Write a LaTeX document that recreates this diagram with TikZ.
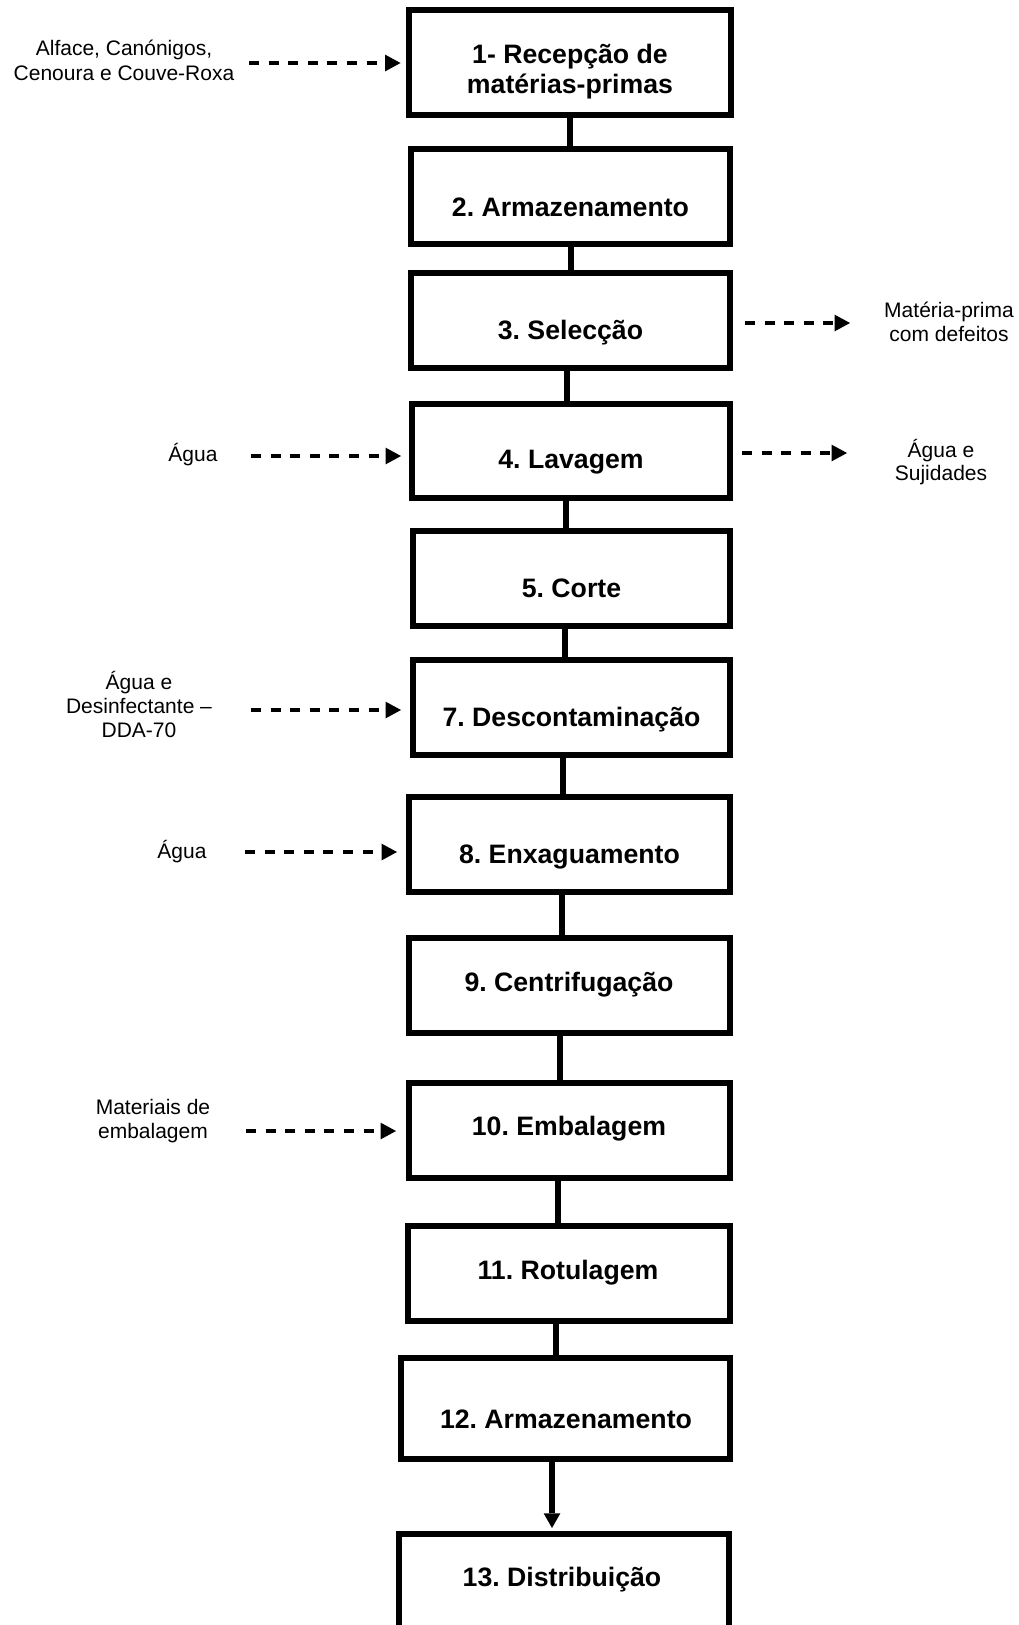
\documentclass[tikz,border=0pt]{standalone}
\usepackage{fontspec}
\setmainfont{Liberation Sans}
\usetikzlibrary{arrows.meta}
\frenchspacing
\begin{document}
\begin{tikzpicture}[x=0.75pt,y=-0.75pt,
  box/.style 2 args={draw, line width=4.5pt, minimum width=#1*0.75pt, minimum height=#2*0.75pt, inner sep=0pt},
  stepname/.style={font=\fontsize{20pt}{21pt}\selectfont\bfseries, anchor=base, inner sep=0pt},
  lab/.style={font=\fontsize{15.75pt}{18.4pt}\selectfont, anchor=base, inner sep=0pt},
  conn/.style={line width=4.1pt},
  dasharr/.style={line width=2.4pt, dash pattern=on 7.5pt off 7.2pt, -{Triangle[length=11.5pt,width=12.5pt,line width=0pt]}},
  finarr/.style={line width=4.1pt, -{Triangle[length=11pt,width=12.5pt,line width=0pt]}}]
\useasboundingbox (0,0) rectangle (1019,1625);
\clip (0,0) rectangle (1019,1625);

% boxes
\node[box={322}{105}] (b1) at (570,62.5) {};
\node[box={319}{95}] (b2) at (570.5,196.5) {};
\node[box={319}{95}] (b3) at (570.5,320.5) {};
\node[box={318}{94}] (b4) at (571,451) {};
\node[box={317}{95}] (b5) at (571.5,578.5) {};
\node[box={317}{95}] (b7) at (571.5,707.5) {};
\node[box={321}{95}] (b8) at (569.5,844.5) {};
\node[box={321}{95}] (b9) at (569.5,985.5) {};
\node[box={321}{95}] (b10) at (569.5,1130.5) {};
\node[box={322}{95}] (b11) at (569,1273.5) {};
\node[box={329}{101}] (b12) at (565.5,1408.5) {};
\node[box={330}{95}] (b13) at (564,1581.5) {};

% box texts
\node[stepname] (t1a) at (570,63) {1- Recepção de};
\node[stepname] (t1b) at (570,93.5) {matérias-primas};
\node[stepname] (t2) at (570.5,216) {2. Armazenamento};
\node[stepname] (t3) at (570.5,339) {3. Selecção};
\node[stepname] (t4) at (571,468) {4. Lavagem};
\node[stepname] (t5) at (571.5,597) {5. Corte};
\node[stepname] (t7) at (571.5,726) {7. Descontaminação};
\node[stepname] (t8) at (569.5,863) {8. Enxaguamento};
\node[stepname] (t9) at (569,991) {9. Centrifugação};
\node[stepname] (t10) at (569,1135) {10. Embalagem};
\node[stepname] (t11) at (568,1279) {11. Rotulagem};
\node[stepname] (t12) at (566,1428) {12. Armazenamento};
\node[stepname] (t13) at (562,1586) {13. Distribuição};

% side labels
\node[lab] (l1a) at (124,55) {Alface, Canónigos,};
\node[lab] (l1b) at (124,80) {Cenoura e Couve-Roxa};
\node[lab] (r3a) at (949,317.5) {Matéria-prima};
\node[lab] (r3b) at (949,341) {com defeitos};
\node[lab] (l4) at (193,461) {Água};
\node[lab] (r4a) at (941,457) {Água e};
\node[lab] (r4b) at (941,480) {Sujidades};
\node[lab] (l7a) at (139,689) {Água e};
\node[lab] (l7b) at (139,713) {Desinfectante –};
\node[lab] (l7c) at (139,737) {DDA-70};
\node[lab] (l8) at (182,858) {Água};
\node[lab] (l10a) at (153,1114) {Materiais de};
\node[lab] (l10b) at (153,1138) {embalagem};

% connector x positions
\coordinate (k1) at (570,0);
\coordinate (k2) at (571,0);
\coordinate (k3) at (567,0);
\coordinate (k4) at (566,0);
\coordinate (k5) at (565,0);
\coordinate (k7) at (563,0);
\coordinate (k8) at (562,0);
\coordinate (k9) at (560,0);
\coordinate (k10) at (558,0);
\coordinate (k11) at (556,0);
\coordinate (k12) at (552,0);

\draw[conn] (b1.south -| k1) -- (b2.north -| k1);
\draw[conn] (b2.south -| k2) -- (b3.north -| k2);
\draw[conn] (b3.south -| k3) -- (b4.north -| k3);
\draw[conn] (b4.south -| k4) -- (b5.north -| k4);
\draw[conn] (b5.south -| k5) -- (b7.north -| k5);
\draw[conn] (b7.south -| k7) -- (b8.north -| k7);
\draw[conn] (b8.south -| k8) -- (b9.north -| k8);
\draw[conn] (b9.south -| k9) -- (b10.north -| k9);
\draw[conn] (b10.south -| k10) -- (b11.north -| k10);
\draw[conn] (b11.south -| k11) -- (b12.north -| k11);
\draw[finarr, shorten >=2.25pt] (b12.south -| k12) -- (b13.north -| k12);

% dashed input arrows
\coordinate (s1) at (249,63);
\coordinate (s4) at (251,456);
\coordinate (s7) at (251,710);
\coordinate (s8) at (245,852);
\coordinate (s10) at (246,1131);
\draw[dasharr, shorten >=4.1pt] (s1) -- (s1 -| b1.west);
\draw[dasharr, shorten >=6pt] (s4) -- (s4 -| b4.west);
\draw[dasharr, shorten >=6.75pt] (s7) -- (s7 -| b7.west);
\draw[dasharr, shorten >=6.75pt] (s8) -- (s8 -| b8.west);
\draw[dasharr, shorten >=7.5pt] (s10) -- (s10 -| b10.west);

% dashed output arrows
\coordinate (e3) at (850,323);
\coordinate (e4) at (847,453);
\draw[dasharr, shorten <=9pt] (e3 -| b3.east) -- (e3);
\draw[dasharr, shorten <=6.75pt] (e4 -| b4.east) -- (e4);
\end{tikzpicture}
\end{document}
